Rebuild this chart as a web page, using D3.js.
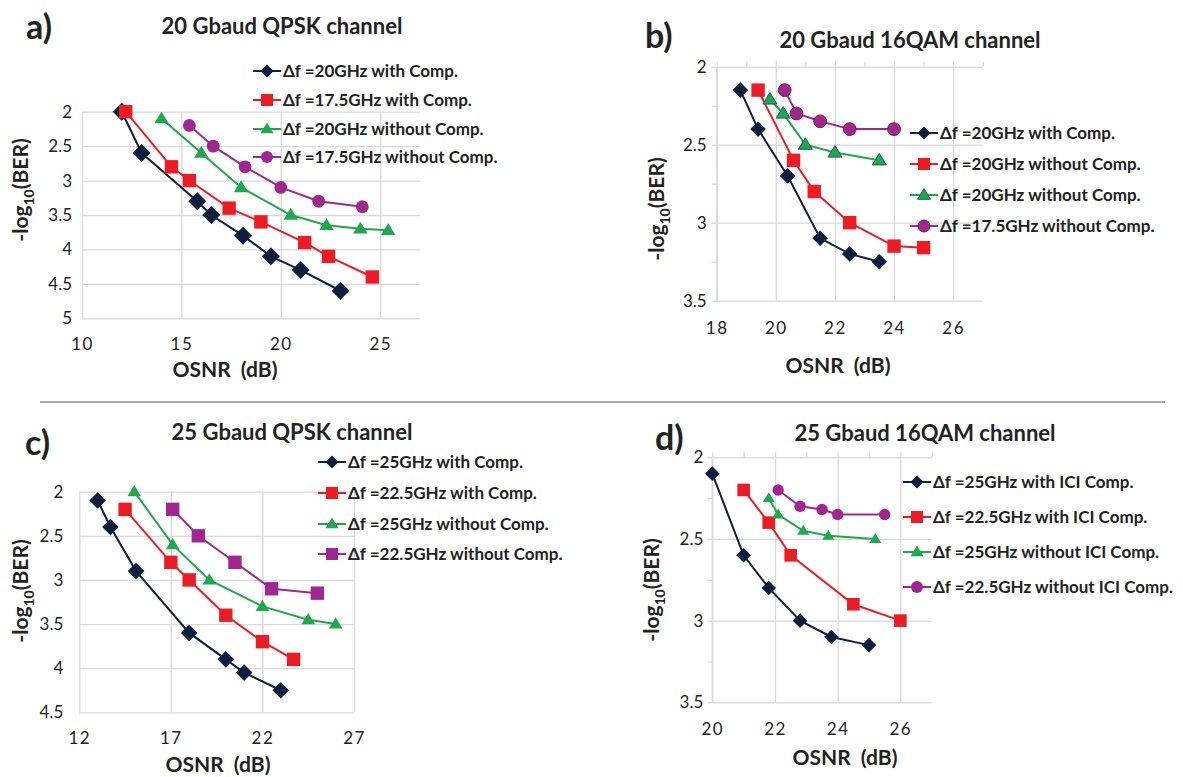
<!DOCTYPE html>
<html><head><meta charset="utf-8">
<script src="https://cdn.jsdelivr.net/npm/d3@7"></script>
<style>body{margin:0;background:#fff}svg{display:block}</style>
</head><body>
<svg id="chart" width="1183" height="777"></svg>
<script>
// ---------------- data ----------------
const panelTags = ["a)", "b)", "c)", "d)"];
const panelTitles = ["20 Gbaud QPSK channel", "20 Gbaud 16QAM channel", "25 Gbaud QPSK channel", "25 Gbaud 16QAM channel"];

const aLegend = ["Δf =20GHz with Comp.", "Δf =17.5GHz with Comp.", "Δf =20GHz without Comp.", "Δf =17.5GHz without Comp."];
const aXTicks = [10, 15, 20, 25];
const aYTicks = [2, 2.5, 3, 3.5, 4, 4.5, 5];
const aS1 = [[12, 2.0], [13, 2.6], [15.8, 3.3], [16.5, 3.5], [18.1, 3.8], [19.5, 4.1], [21, 4.3], [23, 4.6]];
const aS2 = [[12.2, 2.0], [14.5, 2.8], [15.4, 3.0], [17.4, 3.4], [19, 3.6], [21.2, 3.9], [22.4, 4.1], [24.6, 4.4]];
const aS3 = [[14, 2.1], [16, 2.6], [18, 3.1], [20.5, 3.5], [22.3, 3.65], [24, 3.7], [25.4, 3.72]];
const aS4 = [[15.4, 2.2], [16.6, 2.5], [18.2, 2.8], [20, 3.1], [21.9, 3.3], [24.1, 3.38]];

const bLegend = ["Δf =20GHz with Comp.", "Δf =20GHz without Comp.", "Δf =20GHz without Comp.", "Δf =17.5GHz without Comp."];
const bXTicks = [18, 20, 22, 24, 26];
const bYTicks = [2, 2.5, 3, 3.5];
const bS1 = [[18.8, 2.15], [19.4, 2.4], [20.4, 2.7], [21.5, 3.1], [22.5, 3.2], [23.5, 3.25]];
const bS2 = [[19.4, 2.15], [20.6, 2.6], [21.3, 2.8], [22.5, 3.0], [24, 3.15], [25, 3.16]];
const bS3 = [[19.8, 2.21], [20.25, 2.3], [21, 2.5], [22, 2.55], [23.5, 2.6]];
const bS4 = [[20.3, 2.15], [20.7, 2.3], [21.5, 2.35], [22.5, 2.4], [24, 2.4]];

const cLegend = ["Δf =25GHz with Comp.", "Δf =22.5GHz with Comp.", "Δf =25GHz without Comp.", "Δf =22.5GHz without Comp."];
const cXTicks = [12, 17, 22, 27];
const cYTicks = [2, 2.5, 3, 3.5, 4, 4.5];
const cS1 = [[13, 2.1], [13.7, 2.4], [15.1, 2.9], [18, 3.6], [20, 3.9], [21, 4.05], [23, 4.25]];
const cS2 = [[14.5, 2.2], [17, 2.8], [18, 3.0], [20, 3.4], [22, 3.7], [23.7, 3.9]];
const cS3 = [[15, 2.0], [17.1, 2.6], [19.1, 3.0], [22, 3.3], [24.5, 3.45], [26, 3.5]];
const cS4 = [[17.1, 2.2], [18.5, 2.5], [20.5, 2.8], [22.5, 3.1], [25, 3.15]];

const dLegend = ["Δf =25GHz with ICI Comp.", "Δf =22.5GHz with ICI Comp.", "Δf =25GHz without ICI Comp.", "Δf =22.5GHz without ICI Comp."];
const dXTicks = [20, 22, 24, 26];
const dYTicks = [2, 2.5, 3, 3.5];
const dS1 = [[20, 2.1], [21, 2.6], [21.8, 2.8], [22.8, 3.0], [23.8, 3.1], [25, 3.15]];
const dS2 = [[21, 2.2], [21.8, 2.4], [22.5, 2.6], [24.5, 2.9], [26, 3.0]];
const dS3 = [[21.8, 2.25], [22.1, 2.35], [22.9, 2.45], [23.7, 2.48], [25.2, 2.5]];
const dS4 = [[22.1, 2.2], [22.8, 2.3], [23.5, 2.32], [24, 2.35], [25.5, 2.35]];

const xTitle = "OSNR (dB)";

// ---------------- style / layout ----------------
const FONT = "Lato, 'Open Sans', sans-serif";
const NAVY = "#0c1f3f", RED = "#ed1c24", GREEN = "#1fa84c", PURPLE = "#a0278f";
const GRID = "#d9d9d9", TXT = "#222222";

const panels = [
  { tag: panelTags[0], title: panelTitles[0], legend: aLegend, series: [aS1, aS2, aS3, aS4],
    shapes: ["diamond", "square", "triangle", "circle"], colors: [NAVY, RED, GREEN, PURPLE], strokes: [null, null, null, null],
    xDomain: [10, 27], yDomain: [2, 5], xTicks: aXTicks, yTicks: aYTicks, minor: false,
    left: 82, right: 420, top: 111.7, bottom: 318.3, yLabGap: 10, xLabOff: 26,
    mk: { diamond: 9, square: 6.7, triangle: 7.2, circle: 6.4 },
    tagPos: [26, 27], titlePos: [282, 26], legX: 253, legY: [71, 100, 129, 157],
    yTitlePos: [20, 190], xTitlePos: [225, 369] },
  { tag: panelTags[1], title: panelTitles[1], legend: bLegend, series: [bS1, bS2, bS3, bS4],
    shapes: ["diamond", "square", "triangle", "circle"], colors: [NAVY, RED, GREEN, PURPLE], strokes: [null, null, "#1d5a6a", "#7a1d3a"],
    xDomain: [18, 27], yDomain: [2, 3.5], xTicks: bXTicks, yTicks: bYTicks, minor: true,
    left: 716.7, right: 982.7, top: 66.7, bottom: 300.7, yLabGap: 10, xLabOff: 27,
    mk: { diamond: 7.8, square: 6.7, triangle: 7, circle: 6.4 },
    tagPos: [645, 36], titlePos: [910, 40], legX: 910, legY: [133, 164, 195, 226],
    yTitlePos: [656, 209], xTitlePos: [838, 365] },
  { tag: panelTags[2], title: panelTitles[2], legend: cLegend, series: [cS1, cS2, cS3, cS4],
    shapes: ["diamond", "square", "triangle", "square"], colors: [NAVY, RED, GREEN, PURPLE], strokes: [null, null, null, null],
    xDomain: [12, 27], yDomain: [2, 4.5], xTicks: cXTicks, yTicks: cYTicks, minor: false,
    left: 79.3, right: 354, top: 491.7, bottom: 712.3, yLabGap: 16, xLabOff: 26,
    mk: { diamond: 8.3, square: 6.7, triangle: 6.8, circle: 6.4 },
    tagPos: [25, 443], titlePos: [292, 432], legX: 318, legY: [462, 493, 524, 554],
    yTitlePos: [20, 591], xTitlePos: [218, 764] },
  { tag: panelTags[3], title: panelTitles[3], legend: dLegend, series: [dS1, dS2, dS3, dS4],
    shapes: ["diamond", "square", "triangle", "circle"], colors: [NAVY, RED, GREEN, PURPLE], strokes: [null, null, null, null],
    xDomain: [20, 27], yDomain: [2, 3.5], xTicks: dXTicks, yTicks: dYTicks, minor: true,
    left: 712.3, right: 931.7, top: 457.3, bottom: 702.3, yLabGap: 9, xLabOff: 27,
    mk: { diamond: 7.3, square: 6.3, triangle: 6, circle: 5.7 },
    tagPos: [655, 438], titlePos: [925, 433], legX: 903, legY: [482, 517, 552, 587],
    yTitlePos: [651, 590], xTitlePos: [845, 757] }
];

const legendMk = { diamond: 6.5, square: 6, triangle: 6.5, circle: 6 };

const svg = d3.select("#chart");
svg.append("rect").attr("width", 1183).attr("height", 777).attr("fill", "#fff");

function shapePath(shape, s) {
  if (shape === "diamond") return `M0,${-s}L${s},0L0,${s}L${-s},0Z`;
  if (shape === "square") return `M${-s},${-s}H${s}V${s}H${-s}Z`;
  if (shape === "triangle") { const h = s * 1.65; return `M0,${-h * 0.6}L${s},${h * 0.4}L${-s},${h * 0.4}Z`; }
  return `M${s},0A${s},${s} 0 1,1 ${-s},0A${s},${s} 0 1,1 ${s},0Z`;
}

function drawPanel(p) {
  const g = svg.append("g");
  const x = d3.scaleLinear().domain(p.xDomain).range([p.left, p.right]);
  const y = d3.scaleLinear().domain(p.yDomain).range([p.top, p.bottom]);

  // horizontal grid + y labels
  const ya = g.append("g").attr("transform", `translate(${p.left},0)`)
    .call(d3.axisLeft(y).tickValues(p.yTicks).tickSize(-(p.right - p.left)).tickPadding(p.yLabGap).tickFormat(d3.format("~g")));
  ya.select(".domain").remove();
  ya.selectAll(".tick line").attr("stroke", GRID).attr("stroke-width", 1.3);
  ya.selectAll(".tick text").attr("font-family", FONT).attr("font-size", 17).attr("fill", TXT);

  // vertical grid + x labels
  const xa = g.append("g").attr("transform", `translate(0,${p.bottom})`)
    .call(d3.axisBottom(x).tickValues(p.xTicks).tickSize(-(p.bottom - p.top)).tickFormat(d3.format("~g")));
  xa.select(".domain").remove();
  xa.selectAll(".tick line").attr("stroke", GRID).attr("stroke-width", 1.3);
  xa.selectAll(".tick text").attr("font-family", FONT).attr("font-size", 17).attr("fill", TXT)
    .attr("y", p.xLabOff).attr("dy", "0.35em").attr("letter-spacing", 1.5);

  if (p.minor) {
    g.append("line").attr("x1", p.left).attr("x2", p.left).attr("y1", p.top).attr("y2", p.bottom)
      .attr("stroke", GRID).attr("stroke-width", 1.3);
    const ym = d3.range(p.yDomain[0], p.yDomain[1] + 0.001, 0.25);
    g.append("g").attr("transform", `translate(${p.left},0)`)
      .call(d3.axisLeft(y).tickValues(ym).tickSize(5).tickFormat(""))
      .call(a => { a.select(".domain").remove(); a.selectAll("line").attr("stroke", GRID).attr("stroke-width", 1.3); });
    const xm = d3.range(p.xDomain[0], p.xDomain[1] + 0.001, 1);
    g.append("g").attr("transform", `translate(0,${p.top})`)
      .call(d3.axisTop(x).tickValues(xm).tickSize(5).tickFormat(""))
      .call(a => { a.select(".domain").remove(); a.selectAll("line").attr("stroke", GRID).attr("stroke-width", 1.3); });
  }

  // series
  const line = d3.line().x(d => x(d[0])).y(d => y(d[1]));
  p.series.forEach((s, i) => {
    g.append("path").datum(s).attr("d", line).attr("fill", "none")
      .attr("stroke", p.colors[i]).attr("stroke-width", 2);
  });
  p.series.forEach((s, i) => {
    g.append("g").selectAll("path").data(s).join("path")
      .attr("transform", d => `translate(${x(d[0])},${y(d[1])})`)
      .attr("d", shapePath(p.shapes[i], p.mk[p.shapes[i]]))
      .attr("fill", p.colors[i])
      .attr("stroke", p.strokes[i] || "none").attr("stroke-width", 1);
  });

  // legend
  p.legend.forEach((t, i) => {
    const ly = p.legY[i];
    const lg = g.append("g");
    lg.append("line").attr("x1", p.legX).attr("x2", p.legX + 28).attr("y1", ly).attr("y2", ly)
      .attr("stroke", p.colors[i]).attr("stroke-width", 2);
    lg.append("path").attr("transform", `translate(${p.legX + 14},${ly})`)
      .attr("d", shapePath(p.shapes[i], legendMk[p.shapes[i]])).attr("fill", p.colors[i])
      .attr("stroke", p.strokes[i] || "none").attr("stroke-width", 1);
    lg.append("text").attr("x", p.legX + 30).attr("y", ly).attr("dy", "0.36em")
      .attr("font-family", FONT).attr("font-weight", 700).attr("font-size", 17).attr("fill", TXT).text(t);
  });

  // titles
  g.append("text").attr("x", p.titlePos[0]).attr("y", p.titlePos[1]).attr("dy", "0.36em").attr("text-anchor", "middle")
    .attr("font-family", FONT).attr("font-weight", 700).attr("font-size", 22).attr("fill", TXT).text(p.title);
  g.append("text").attr("x", p.tagPos[0]).attr("y", p.tagPos[1]).attr("dy", "0.36em")
    .attr("font-family", FONT).attr("font-weight", 700).attr("font-size", 34).attr("fill", TXT).text(p.tag);

  g.append("text").attr("x", p.xTitlePos[0]).attr("y", p.xTitlePos[1]).attr("dy", "0.36em").attr("text-anchor", "middle")
    .attr("font-family", FONT).attr("font-weight", 700).attr("font-size", 21).attr("word-spacing", 5)
    .attr("fill", TXT).text(xTitle);

  const yt = g.append("text").attr("transform", `translate(${p.yTitlePos[0]},${p.yTitlePos[1]}) rotate(-90)`)
    .attr("dy", "0.36em").attr("text-anchor", "middle")
    .attr("font-family", FONT).attr("font-weight", 700).attr("font-size", 21).attr("fill", TXT);
  yt.append("tspan").text("-log");
  yt.append("tspan").attr("font-size", 14).attr("dy", "0.45em").text("10");
  yt.append("tspan").attr("dy", "-0.3em").text("(BER)");
}

panels.forEach(drawPanel);

// separator
svg.append("line").attr("x1", 40).attr("x2", 1165).attr("y1", 402).attr("y2", 402)
  .attr("stroke", "#8c8c8c").attr("stroke-width", 1.6);
</script>
</body></html>
